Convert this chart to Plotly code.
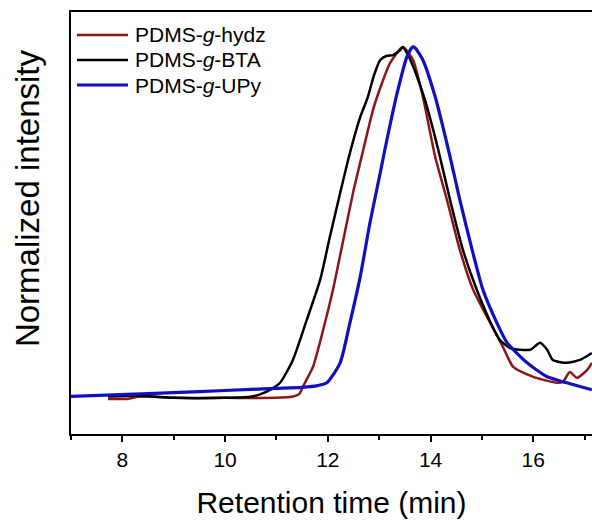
import plotly.graph_objects as go

# PDMS-g-hydz (red)
hydz_t = [7.72, 8.1, 8.3, 8.5, 9.0, 10.0, 11.0, 11.3, 11.45, 11.51, 11.71, 11.91, 12.10, 12.29,
          12.49, 12.69, 12.88, 13.02, 13.21, 13.46, 13.66, 13.85, 14.09, 14.32, 14.57, 14.83,
          15.16, 15.41, 15.61, 16.0, 16.46, 16.58, 16.71, 16.85, 17.05, 17.14]
hydz_v = [-0.003, -0.003, 0.003, 0.004, 0.0, 0.0, 0.0, 0.003, 0.012, 0.031, 0.088, 0.194, 0.308, 0.442,
          0.584, 0.707, 0.821, 0.883, 0.954, 1.0, 0.963, 0.858, 0.687, 0.564, 0.422, 0.308,
          0.214, 0.145, 0.088, 0.060, 0.043, 0.046, 0.074, 0.057, 0.080, 0.100]

# PDMS-g-BTA (black)
bta_t = [7.72, 8.3, 9.0, 10.0, 10.49, 10.68, 10.9, 11.07, 11.32, 11.59, 11.85, 12.04, 12.24, 12.43,
         12.63, 12.78, 12.9, 13.02, 13.15, 13.27, 13.4, 13.46, 13.55, 13.7, 13.9, 14.15, 14.38,
         14.63, 14.90, 15.21, 15.35, 15.55, 15.94, 16.13, 16.27, 16.38, 16.65, 16.91, 17.14]
bta_v = [0.004, 0.006, 0.0, 0.0, 0.003, 0.010, 0.025, 0.043, 0.108, 0.222, 0.336, 0.459, 0.584, 0.698,
         0.80, 0.858, 0.92, 0.963, 0.975, 0.977, 0.99, 1.0, 0.98, 0.93, 0.845, 0.707, 0.564,
         0.422, 0.308, 0.202, 0.165, 0.142, 0.137, 0.157, 0.137, 0.108, 0.100, 0.108, 0.128]

# PDMS-g-UPy (blue)
upy_t = [7.0, 8.5, 9.5, 10.5, 11.0, 11.5, 11.8, 11.98, 12.24, 12.43, 12.63, 12.82, 13.02, 13.11,
         13.35, 13.54, 13.65, 13.70, 13.85, 14.09, 14.38, 14.57, 14.81, 15.02, 15.29, 15.49,
         15.88, 16.27, 16.65, 17.14]
upy_v = [0.004, 0.012, 0.018, 0.024, 0.027, 0.030, 0.035, 0.043, 0.100, 0.214, 0.345, 0.499, 0.641, 0.707,
         0.869, 0.972, 1.0, 0.997, 0.963, 0.858, 0.687, 0.564, 0.422, 0.308, 0.214, 0.157,
         0.100, 0.060, 0.043, 0.023]

series_names = ["PDMS-<i>g</i>-hydz", "PDMS-<i>g</i>-BTA", "PDMS-<i>g</i>-UPy"]
series_colors = ["#8c1515", "#000000", "#1010c0"]
x_ticks = [8, 10, 12, 14, 16]

font_family = "Liberation Sans, Arial, sans-serif"

fig = go.Figure()
data = [(hydz_t, hydz_v), (bta_t, bta_v), (upy_t, upy_v)]
widths = [2.5, 2.5, 3.2]
for (t, v), name, color, w in zip(data, series_names, series_colors, widths):
    fig.add_trace(go.Scatter(x=t, y=v, mode="lines", name=name, showlegend=False,
                             line=dict(color=color, width=w, shape="spline", smoothing=0.6)))

# manual legend (tight row spacing like the original)
legend_rows_y = [0.9455, 0.8863, 0.827]
for name, color, yy, w in zip(series_names, series_colors, legend_rows_y, widths):
    fig.add_shape(type="line", xref="paper", yref="paper", x0=0.0115, x1=0.1094, y0=yy, y1=yy,
                  line=dict(color=color, width=w))
    fig.add_annotation(xref="paper", yref="paper", x=0.119, y=yy, text=name, showarrow=False,
                       xanchor="left", yanchor="middle", font=dict(size=21, family=font_family, color="black"))

# y-axis title as annotation (positioned like the original)
fig.add_annotation(xref="paper", yref="paper", x=-0.0845, y=0.559, text="Normalized intensity",
                   textangle=-90, showarrow=False, xanchor="center", yanchor="middle",
                   font=dict(size=33, family=font_family, color="black"))

fig.update_layout(
    width=592, height=521,
    margin=dict(l=71, r=0, t=12, b=87),
    paper_bgcolor="white", plot_bgcolor="white",
    font=dict(family=font_family, color="black"),
    showlegend=False,
    xaxis=dict(range=[7, 17.143], tickvals=x_ticks, ticks="outside", ticklen=6, tickwidth=1.5,
               tickcolor="black", showline=True, linecolor="black", linewidth=1.8, mirror=True,
               showgrid=False, zeroline=False, tickfont=dict(size=21),
               minor=dict(dtick=1, tick0=7, ticks="outside", ticklen=4, tickwidth=1.5, tickcolor="black", showgrid=False),
               title=dict(text="Retention time (min)", font=dict(size=30), standoff=22)),
    yaxis=dict(range=[-0.103, 1.0997], showticklabels=False, ticks="", showline=True,
               linecolor="black", linewidth=1.8, mirror=False, showgrid=False, zeroline=False),
)

fig.write_html("out.html")
